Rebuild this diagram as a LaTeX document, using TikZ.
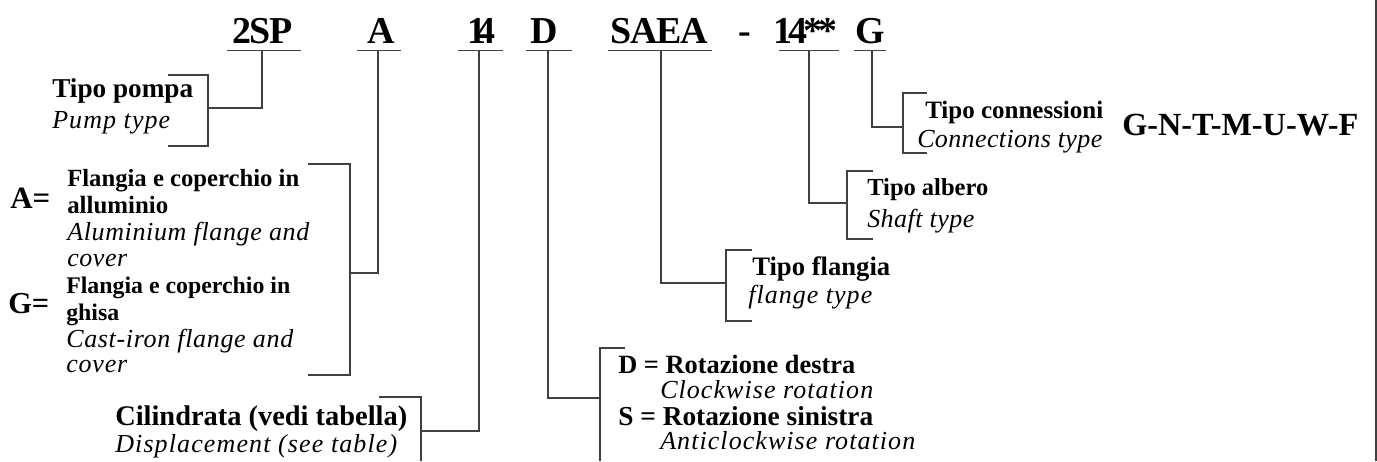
\documentclass[tikz,border=0pt]{standalone}
\usepackage{fontspec}
\setmainfont{Liberation Serif}
\makeatletter
\newcommand\fitls[3]{%
  \setbox0\hbox{#3}%
  \pgfmathsetmacro\lsval{((#1)*0.75 - \the\wd0)/(#2)/\f@size*100}%
  \addfontfeature{LetterSpace=\lsval}#3}
\newcommand\fitsz[2]{%
  \setbox0\hbox{\fontsize{10}{12}\selectfont #2}%
  \pgfmathsetmacro\myfsz{10*(#1)*0.75/\the\wd0}%
  \fontsize{\myfsz}{\myfsz}\selectfont #2}
\makeatother
\begin{document}
\begin{tikzpicture}[x=0.75pt,y=-0.75pt,
  ln/.style={draw=black!75,line width=0.9pt},
  code/.style={anchor=base west,inner sep=0pt,font=\fontsize{28.5}{30}\selectfont\bfseries},
  bl/.style={anchor=base west,inner sep=0pt,font=\bfseries},
  it/.style={anchor=base west,inner sep=0pt,font=\fontsize{19.5}{22}\selectfont\itshape},
  eq/.style={anchor=base west,inner sep=0pt,font=\bfseries}]
\useasboundingbox (0,0) rectangle (1377,461);
% main code
\node[code] (c2sp) at (232,43) {\fitls{60}{2}{2SP}};
\node[code] (cA) at (367,43) {A};
\node[code] (c14) at (467,43) {\fitls{28}{1}{14}};
\node[code] (cD) at (530,43) {D};
\node[code] (cSAEA) at (610,43) {\fitls{98}{3}{SAEA}};
\node[code] (cdash) at (738,43) {-};
\node[code] (c14s) at (773,43) {\fitls{64}{3}{14**}};
\node[code] (cG) at (855,43) {G};
% underlines
\coordinate (u2a) at (227,50.5); \coordinate (u2b) at (301,50.5);
\coordinate (uAa) at (357,50.5); \coordinate (uAb) at (401,50.5);
\coordinate (u14a) at (458,50.5); \coordinate (u14b) at (503,50.5);
\coordinate (uDa) at (526,50.5); \coordinate (uDb) at (572,50.5);
\coordinate (uSa) at (608,50.5); \coordinate (uSb) at (712,50.5);
\coordinate (uTa) at (779,50.5); \coordinate (uTb) at (839,50.5);
\coordinate (uGa) at (854,50.5); \coordinate (uGb) at (886,50.5);
\draw[ln] (u2a) -- (u2b) (uAa) -- (uAb) (u14a) -- (u14b) (uDa) -- (uDb)
  (uSa) -- (uSb) (uTa) -- (uTb) (uGa) -- (uGb);
% pump type
\node[bl] (tp) at (52,97) {\fitsz{141}{Tipo pompa}};
\node[it] (pt) at (52,128) {\fitls{118}{7}{Pump type}};
\draw[ln] (262,50.5) |- (208,108);
\draw[ln] (168,75) -- (208,75) -- (208,146) -- (168,146);
% flange material
\node[eq] (aeq) at (10,208) {\fitsz{40}{A=}};
\node[bl] (a1) at (67,186.5) {\fitsz{232}{Flangia e coperchio in}};
\node[bl] (a2) at (67,213) {\fitsz{101}{alluminio}};
\node[it] (a3) at (67,240) {\fitls{242}{17}{Aluminium flange and}};
\node[it] (a4) at (67,266) {\fitls{60}{4}{cover}};
\node[eq] (geq) at (8,313) {\fitsz{41}{G=}};
\node[bl] (g1) at (66,293) {\fitsz{224}{Flangia e coperchio in}};
\node[bl] (g2) at (66,320) {\fitsz{53}{ghisa}};
\node[it] (g3) at (66,347) {\fitls{227}{17}{Cast-iron flange and}};
\node[it] (g4) at (66,372) {\fitls{61}{4}{cover}};
\draw[ln] (378,50.5) |- (350,273);
\draw[ln] (308,164) -- (350,164) -- (350,375) -- (308,375);
% displacement
\node[bl] (ci) at (115,425) {\fitsz{292}{Cilindrata (vedi tabella)}};
\node[it] (di) at (115,452) {\fitls{282}{21}{Displacement (see table)}};
\draw[ln] (479,50.5) |- (421,431);
\draw[ln] (379,397) -- (421,397) -- (421,461);
% rotation
\node[bl] (rd) at (618,373) {\fitsz{237}{D = Rotazione destra}};
\node[it] (rc) at (660,398) {\fitls{213}{16}{Clockwise rotation}};
\node[bl] (rs) at (618,425) {\fitsz{255}{S = Rotazione sinistra}};
\node[it] (ra) at (660,449) {\fitls{255}{20}{Anticlockwise rotation}};
\draw[ln] (548,50.5) |- (600,398);
\draw[ln] (625,348) -- (600,348) -- (600,461);
% flange type
\node[bl] (tf) at (752,275) {\fitsz{138}{Tipo flangia}};
\node[it] (ft) at (748,303) {\fitls{124}{9}{flange type}};
\draw[ln] (661,50.5) |- (726,283);
\draw[ln] (752,250) -- (726,250) -- (726,321) -- (752,321);
% shaft type
\node[bl] (ta) at (867,195) {\fitsz{121}{Tipo albero}};
\node[it] (st) at (867,227) {\fitls{107}{8}{Shaft type}};
\draw[ln] (809,50.5) |- (847,203);
\draw[ln] (873,171) -- (847,171) -- (847,239) -- (873,239);
% connections
\node[bl] (tc) at (925,118) {\fitsz{178}{Tipo connessioni}};
\node[it] (ct) at (917,147) {\fitls{185}{14}{Connections type}};
\node[bl] (gl) at (1122,135) {\fitsz{236}{G-N-T-M-U-W-F}};
\draw[ln] (872,50.5) |- (903,127);
\draw[ln] (927,93) -- (903,93) -- (903,153) -- (927,153);
% right border
\draw[ln] (1376,0) -- (1376,461);
\end{tikzpicture}
\end{document}
